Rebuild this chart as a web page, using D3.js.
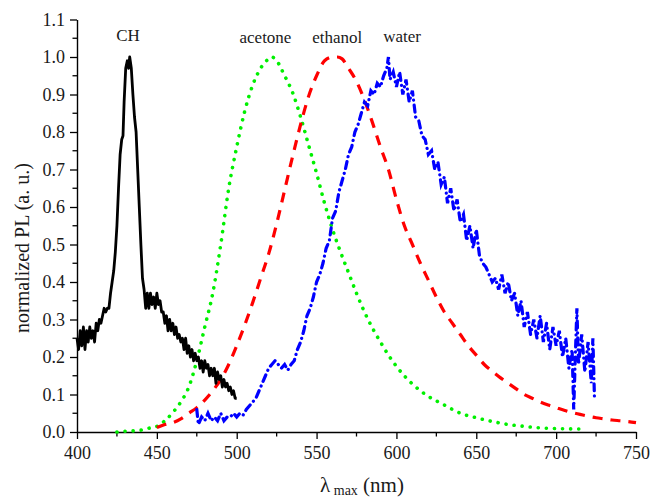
<!DOCTYPE html>
<html>
<head>
<meta charset="utf-8">
<script src="https://cdn.jsdelivr.net/npm/d3@7.9.0/dist/d3.min.js"></script>
<style>
  body { margin: 0; background: #fff; }
  svg text { font-family: "Liberation Serif", "Times New Roman", serif; fill: #1a1a1a; }
</style>
</head>
<body>
<svg id="chart" width="656" height="498"></svg>
<script>
// wavelength (nm), normalized PL
const chData = [
  [400,0.25],[401,0.22],[402,0.27],[403,0.23],[404,0.28],[405,0.22],[406,0.27],[407,0.24],[408,0.28],
  [409,0.25],[410,0.27],[411,0.24],[412,0.29],[413,0.27],[414,0.30],[415,0.29],[416,0.31],[417,0.33],
  [418,0.32],[419,0.33],[420,0.33],[421,0.37],[422,0.40],[423,0.43],[424,0.48],[425,0.55],[426,0.65],
  [427,0.74],[428,0.78],[428.8,0.79],[429.5,0.88],[430.5,0.97],[431.5,0.99],[432.3,0.97],[433,1.0],
  [434,0.97],[435,0.90],[436,0.84],[437,0.80],[438,0.70],[439,0.60],[440,0.50],[441,0.41],[442,0.38],
  [443,0.33],[444,0.37],[445,0.33],[446,0.37],[447,0.34],[448,0.36],[449,0.33],[450,0.37],[451,0.34],
  [452,0.35],[453,0.32],[454,0.32],[455,0.29],[456,0.31],[457,0.27],[458,0.30],[459,0.27],[460,0.29],
  [461,0.26],[462,0.28],[463,0.25],[464,0.26],[465,0.24],[466,0.25],[467,0.22],[468,0.25],[469,0.21],
  [470,0.23],[471,0.20],[472,0.22],[473,0.19],[474,0.21],[475,0.19],[476,0.20],[477,0.17],[478,0.19],
  [479,0.16],[480,0.19],[481,0.17],[482,0.18],[483,0.15],[484,0.17],[485,0.15],[486,0.17],[487,0.13],
  [488,0.16],[489,0.14],[490,0.15],[491,0.12],[492,0.14],[493,0.12],[494,0.13],[495,0.11],[496,0.12],
  [497,0.10],[498,0.11],[499,0.09],[500,0.09]
];

const acetoneData = [
  [425,0.0],[430,0.002],[435,0.003],[440,0.005],[445,0.01],[450,0.015],[455,0.03],[460,0.052],
  [465,0.08],[470,0.12],[475,0.19],[480,0.28],[485,0.37],[490,0.50],[495,0.65],[500,0.76],[505,0.855],
  [510,0.925],[515,0.97],[520,0.995],[522,1.0],[525,0.99],[530,0.95],[535,0.905],[540,0.84],[545,0.765],
  [550,0.69],[555,0.61],[560,0.54],[565,0.48],[570,0.425],[575,0.37],[580,0.32],[585,0.277],[590,0.24],
  [595,0.205],[600,0.175],[610,0.128],[620,0.095],[630,0.072],[640,0.05],[650,0.038],[660,0.028],
  [670,0.02],[680,0.015],[690,0.011],[700,0.009],[715,0.008]
];

const ethanolData = [
  [450,0.012],[455,0.02],[460,0.025],[465,0.035],[470,0.05],[475,0.065],[480,0.085],[485,0.11],
  [490,0.14],[495,0.18],[500,0.23],[505,0.285],[510,0.345],[515,0.41],[520,0.475],[525,0.555],
  [530,0.645],[535,0.735],[540,0.82],[545,0.895],[550,0.95],[555,0.99],[560,1.0],[563,1.0],[566,0.995],
  [570,0.97],[575,0.935],[580,0.885],[585,0.825],[590,0.76],[595,0.70],[600,0.62],[605,0.55],[610,0.50],
  [615,0.45],[620,0.405],[625,0.36],[630,0.32],[635,0.29],[640,0.26],[645,0.23],[650,0.205],[655,0.18],
  [660,0.162],[665,0.145],[670,0.13],[675,0.115],[680,0.10],[685,0.09],[690,0.08],[695,0.072],
  [700,0.065],[705,0.058],[710,0.052],[715,0.047],[720,0.042],[725,0.038],[730,0.035],[735,0.032],
  [740,0.03],[745,0.028],[750,0.025]
];

const waterData = [
  [475,0.06],[476,0.02],[478,0.04],[480,0.03],[482,0.05],[484,0.03],[486,0.04],[488,0.03],[490,0.05],
  [492,0.03],[494,0.04],[496,0.04],[498,0.05],[500,0.04],[502,0.05],[504,0.045],[506,0.06],[508,0.07],
  [510,0.08],[512,0.09],[514,0.11],[516,0.13],[518,0.15],[520,0.17],[522,0.18],[524,0.19],[526,0.18],
  [528,0.17],[530,0.18],[532,0.165],[534,0.18],[536,0.19],[538,0.22],[540,0.24],[542,0.27],[544,0.31],
  [546,0.33],[548,0.36],[550,0.40],[552,0.42],[554,0.45],[556,0.49],[558,0.51],[560,0.57],[562,0.59],
  [564,0.64],[566,0.67],[568,0.70],[570,0.74],[572,0.76],[574,0.80],[576,0.82],[578,0.85],[580,0.88],
  [582,0.87],[584,0.91],[586,0.90],[588,0.93],[590,0.92],[592,0.95],[594,0.97],[595,1.0],[596,0.94],
  [598,0.96],[600,0.92],[602,0.96],[604,0.90],[606,0.94],[608,0.88],[610,0.91],[612,0.84],[614,0.83],
  [616,0.79],[618,0.78],[620,0.74],[622,0.75],[624,0.70],[626,0.72],[628,0.66],[630,0.68],[632,0.61],
  [634,0.65],[636,0.59],[638,0.62],[640,0.56],[642,0.58],[644,0.51],[646,0.55],[648,0.49],[650,0.54],
  [652,0.47],[654,0.45],[656,0.44],[658,0.42],[660,0.40],[662,0.41],[664,0.38],[666,0.42],[668,0.37],
  [670,0.40],[672,0.35],[674,0.37],[676,0.31],[678,0.35],[680,0.28],[682,0.32],[684,0.26],[686,0.30],
  [688,0.25],[690,0.31],[692,0.24],[694,0.29],[696,0.22],[698,0.28],[700,0.23],[702,0.27],[704,0.20],
  [706,0.25],[708,0.17],[710,0.22],[711,0.06],[712,0.20],[713,0.33],[714,0.18],[716,0.26],[718,0.16],
  [720,0.24],[722,0.13],[723,0.25],[724,0.09]
];

const labels = [
  { text: 'CH', x: 432, y: 1.043 },
  { text: 'acetone', x: 518, y: 1.037 },
  { text: 'ethanol', x: 563, y: 1.037 },
  { text: 'water', x: 603.5, y: 1.04 }
];

const xTicks = [400, 450, 500, 550, 600, 650, 700, 750];
const yTicks = [0, 0.1, 0.2, 0.3, 0.4, 0.5, 0.6, 0.7, 0.8, 0.9, 1.0, 1.1];

const serif = '"Liberation Serif", "Times New Roman", serif';
const svg = d3.select('#chart');

let x = d3.scaleLinear().domain([400, 750]).range([77, 636]);
let y = d3.scaleLinear().domain([0, 1.1]).range([432, 19.5]);

// minor ticks
let xMinor = d3.range(425, 750, 50);
let yMinor = d3.range(0.05, 1.1, 0.1);

let xAxis = svg.append('g')
  .attr('transform', 'translate(0,432)')
  .call(d3.axisBottom(x).tickValues(xTicks).tickSize(7).tickSizeOuter(0).tickPadding(7));
xAxis.attr('font-family', serif);
xAxis.selectAll('text').style('font-size', '18px');
xAxis.selectAll('.tick line').attr('stroke-width', 1.3);
xAxis.select('.domain').attr('stroke-width', 1.4);
xAxis.selectAll('.minor').data(xMinor).enter().append('line')
  .attr('x1', d => x(d)).attr('x2', d => x(d))
  .attr('y1', 0).attr('y2', 4.5)
  .attr('stroke', '#000').attr('stroke-width', 1.3);

let yAxis = svg.append('g')
  .attr('transform', 'translate(77,0)')
  .call(d3.axisLeft(y).tickValues(yTicks).tickFormat(d3.format('.1f')).tickSize(7).tickSizeOuter(0).tickPadding(5));
yAxis.attr('font-family', serif);
yAxis.selectAll('text').style('font-size', '18px');
yAxis.selectAll('.tick line').attr('stroke-width', 1.3);
yAxis.select('.domain').attr('stroke-width', 1.4);
yAxis.selectAll('.minor').data(yMinor).enter().append('line')
  .attr('x1', 0).attr('x2', -4.5)
  .attr('y1', d => y(d)).attr('y2', d => y(d))
  .attr('stroke', '#000').attr('stroke-width', 1.3);

// curves
let lineLinear = d3.line().x(d => x(d[0])).y(d => y(d[1]));
let lineSmooth = d3.line().x(d => x(d[0])).y(d => y(d[1])).curve(d3.curveMonotoneX);

svg.append('path').datum(acetoneData)
  .attr('d', lineSmooth)
  .attr('fill', 'none').attr('stroke', '#00f000')
  .attr('stroke-width', 3.6).attr('stroke-linecap', 'round')
  .attr('stroke-dasharray', '0.1,8');

svg.append('path').datum(ethanolData)
  .attr('d', lineSmooth)
  .attr('fill', 'none').attr('stroke', '#ff0000')
  .attr('stroke-width', 3.2).attr('stroke-dasharray', '10,8');

svg.append('path').datum(waterData)
  .attr('d', lineLinear)
  .attr('fill', 'none').attr('stroke', '#0000ff')
  .attr('stroke-width', 3.2).attr('stroke-linecap', 'round')
  .attr('stroke-dasharray', '7,5,0.1,5');

svg.append('path').datum(chData)
  .attr('d', lineLinear)
  .attr('fill', 'none').attr('stroke', '#000')
  .attr('stroke-width', 2.8).attr('stroke-linejoin', 'round');

// series labels
svg.selectAll('.lbl').data(labels).enter().append('text')
  .attr('x', d => x(d.x)).attr('y', d => y(d.y))
  .attr('text-anchor', 'middle')
  .style('font-size', '17px')
  .text(d => d.text);

// axis titles
svg.append('text')
  .attr('transform', 'translate(29,248) rotate(-90)')
  .attr('text-anchor', 'middle')
  .style('font-size', '20px')
  .text('normalized PL (a. u.)');

let xt = svg.append('text')
  .attr('x', 362).attr('y', 492)
  .attr('text-anchor', 'middle')
  .style('font-size', '21px');
xt.append('tspan').text('λ');
xt.append('tspan').attr('dy', 3).style('font-size', '14px').text(' max');
xt.append('tspan').attr('dy', -3).text(' (nm)');
</script>
</body>
</html>
